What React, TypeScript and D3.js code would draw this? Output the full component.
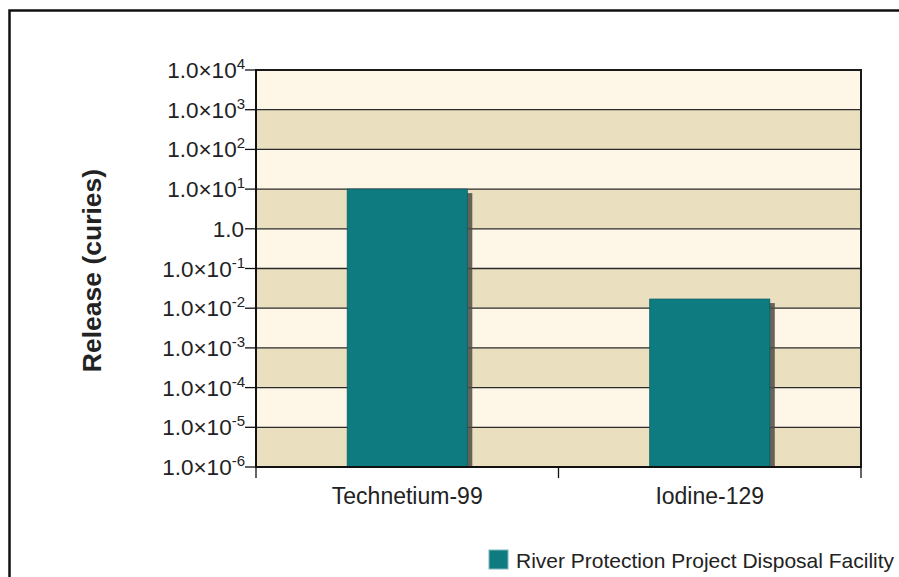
import React from "react";
import * as d3 from "d3";

const categories = ["Technetium-99", "Iodine-129"];
const releaseValues = [10, 0.017];
const tickExponents = [4, 3, 2, 1, 0, -1, -2, -3, -4, -5, -6];
const seriesName = "River Protection Project Disposal Facility";
const yTitle = "Release (curies)";

const W = 899;
const H = 577;
const M = { left: 256, right: 861, top: 70, bottom: 467 };
const TEAL = "#0E7B80";
const LIGHT = "#FEF6E6";
const DARK = "#EAE0C0";
const FONT = "Liberation Sans, Arial, Helvetica, sans-serif";

export default function App() {
  const y = d3.scaleLog().domain([1e-6, 1e4]).range([M.bottom, M.top]);
  const x = d3
    .scaleBand<string>()
    .domain(categories)
    .range([M.left, M.right])
    .paddingInner(0.603)
    .paddingOuter(0.3015);
  const step = x.step();
  const tickVals = tickExponents.map((e) => Math.pow(10, e));
  const bands = tickVals.slice(0, -1).map((v, i) => ({ top: v, bot: tickVals[i + 1], i }));
  const catEdges = d3.range(categories.length + 1).map((i) => M.left + i * step);

  return (
    <svg width={W} height={H} style={{ position: "absolute", left: 0, top: 0, background: "#fff" }} fontFamily={FONT}>
      <defs>
        <clipPath id="plotclip">
          <rect x={M.left} y={M.top} width={M.right - M.left} height={M.bottom - M.top} />
        </clipPath>
      </defs>
      {/* outer frame */}
      <path d={`M9.5,${H + 5} L9.5,10.5 L${W + 5},10.5`} fill="none" stroke="#111" strokeWidth={2.5} />

      {/* bands */}
      {bands.map((b) => (
        <rect key={b.i} x={M.left} y={y(b.top)} width={M.right - M.left} height={y(b.bot) - y(b.top)} fill={b.i % 2 === 0 ? LIGHT : DARK} />
      ))}
      {/* gridlines */}
      {tickVals.map((v, i) => (
        <line key={i} x1={M.left} x2={M.right} y1={y(v)} y2={y(v)} stroke="#2a2a2a" strokeWidth={1.3} />
      ))}
      {/* bars with shadow */}
      <g clipPath="url(#plotclip)">
        {categories.map((c, i) => (
          <rect key={"s" + c} x={(x(c) as number) + 5} y={y(releaseValues[i]) + 4} width={x.bandwidth()} height={M.bottom - y(releaseValues[i])} fill="#4f4b44" opacity={0.85} />
        ))}
      </g>
      {categories.map((c, i) => (
        <rect key={c} x={x(c)} y={y(releaseValues[i])} width={x.bandwidth()} height={M.bottom - y(releaseValues[i])} fill={TEAL} stroke="#0a5f63" strokeWidth={0.8} />
      ))}
      {/* frame top/right */}
      <line x1={M.left} x2={M.right + 1} y1={M.top} y2={M.top} stroke="#1a1a1a" strokeWidth={2} />
      <line x1={M.right} x2={M.right} y1={M.top} y2={M.bottom} stroke="#1a1a1a" strokeWidth={2} />
      {/* axes */}
      <line x1={M.left} x2={M.left} y1={M.top - 1} y2={M.bottom + 1} stroke="#111" strokeWidth={2} />
      <line x1={M.left - 1} x2={M.right + 1} y1={M.bottom} y2={M.bottom} stroke="#111" strokeWidth={2} />
      {tickVals.map((v, i) => (
        <line key={"t" + i} x1={M.left - 11} x2={M.left} y1={y(v)} y2={y(v)} stroke="#111" strokeWidth={1.3} />
      ))}
      {catEdges.map((xe, i) => (
        <line key={"ct" + i} x1={xe} x2={xe} y1={M.bottom} y2={M.bottom + 11} stroke="#111" strokeWidth={1.3} />
      ))}
      {/* tick labels */}
      {tickExponents.map((e, i) => {
        const yy = y(Math.pow(10, e));
        if (e === 0) {
          return (
            <text key={"l" + i} x={M.left - 12} y={yy + 8} textAnchor="end" fontSize={22.5} fill="#222">
              1.0
            </text>
          );
        }
        return (
          <text key={"l" + i} x={M.left - 11} y={yy + 8} textAnchor="end" fontSize={22.5} fill="#222">
            1.0×10
            <tspan fontSize={15} dy={-9}>{String(e)}</tspan>
          </text>
        );
      })}
      {/* category labels */}
      {categories.map((c) => (
        <text key={"c" + c} x={(x(c) as number) + x.bandwidth() / 2} y={504} textAnchor="middle" fontSize={23} fill="#222">
          {c}
        </text>
      ))}
      {/* y title */}
      <text transform={`translate(101,${(M.top + M.bottom) / 2 + 2}) rotate(-90)`} textAnchor="middle" fontSize={26.5} fontWeight="bold" fill="#222">
        {yTitle}
      </text>
      {/* legend */}
      <rect x={489} y={550} width={19} height={19} fill={TEAL} stroke="#7fb8bb" strokeWidth={1} />
      <text x={516} y={568} fontSize={21} fill="#222">
        {seriesName}
      </text>
    </svg>
  );
}
